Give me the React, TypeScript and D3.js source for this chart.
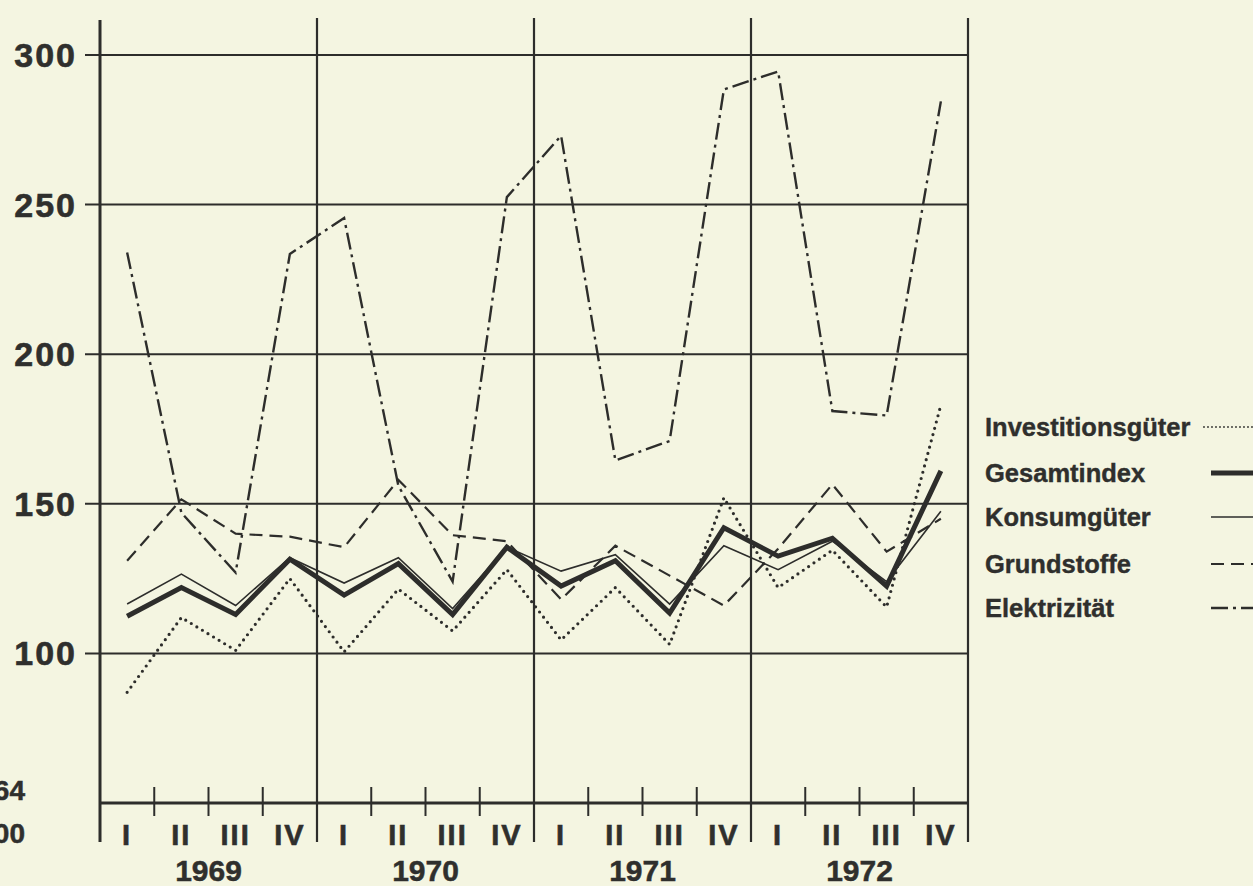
import React from 'react';
import * as d3 from 'd3';

// Quarterly production index, 1964 = 100
const years = ['1969', '1970', '1971', '1972'];
const quarters = ['I', 'II', 'III', 'IV'];
const yTicks = [100, 150, 200, 250, 300];

const investitionsgueter = [87, 112, 101, 125, 100.5, 121.5, 107.5, 128, 104.5, 122, 103, 152, 122, 134.5, 115.5, 183];
const gesamtindex = [112.4, 122, 113, 131.5, 119.5, 130, 113, 135.5, 122.5, 131, 113.5, 142, 132.5, 138.5, 122.5, 161];
const konsumgueter = [116.5, 126.5, 116, 132, 123.5, 132, 115, 135.5, 127.5, 133, 116.5, 136, 128, 137.5, 124, 147.5];
const grundstoffe = [131, 151.5, 140, 139, 135.5, 158, 139.5, 137.5, 118, 136, 126, 116, 135, 156.5, 134, 145];
const elektrizitaet = [234, 147, 127, 233.5, 245.5, 156, 124, 252.5, 273, 164.5, 171, 288.5, 294.5, 181, 179.5, 284.5];

const INK = '#2d2d2b';
const TEXT = '#2f2f2d';
const BG = '#f4f5e1';
const FONT = '"Liberation Sans", Arial, Helvetica, sans-serif';

const series = [
  { name: 'Investitionsgüter', values: investitionsgueter, width: 3.2, dash: '0 6.5', cap: 'round' },
  { name: 'Gesamtindex', values: gesamtindex, width: 5, dash: null, cap: 'butt' },
  { name: 'Konsumgüter', values: konsumgueter, width: 1.6, dash: null, cap: 'butt' },
  { name: 'Grundstoffe', values: grundstoffe, width: 2.2, dash: '13 7', cap: 'butt' },
  { name: 'Elektrizität', values: elektrizitaet, width: 2.4, dash: '17 5 3 5', cap: 'butt' },
];

export default function App() {
  const width = 1253;
  const height = 886;
  const left = 100;
  const right = 968;
  const top = 18;
  const baseY = 803;
  const n = years.length * quarters.length;

  const x = d3.scaleLinear().domain([0, n]).range([left, right]);
  const y = d3.scaleLinear().domain([50, 300]).range([baseY, 55]);

  const line = d3.line<number>()
    .x((_, i) => x(i + 0.5))
    .y(d => y(d));

  const legendY = [427, 473, 517, 564, 608];

  return (
    <svg width={width} height={height}
      style={{ position: 'absolute', left: 0, top: 0, background: BG }}
      fontFamily={FONT} fontWeight="bold">
      <rect x={0} y={0} width={width} height={height} fill={BG} />

      {/* horizontal grid */}
      {yTicks.map(t => (
        <g key={t}>
          <line x1={85} x2={right} y1={y(t)} y2={y(t)} stroke={INK} strokeWidth={2} />
          <text x={77} y={y(t) + 12} textAnchor="end" fontSize={34} fill={TEXT} letterSpacing={2}
            stroke={TEXT} strokeWidth={0.6}>{t}</text>
        </g>
      ))}

      {/* year dividers */}
      {d3.range(1, years.length + 1).map(k => (
        <line key={k} x1={x(k * 4)} x2={x(k * 4)} y1={top} y2={842} stroke={INK} strokeWidth={2.2} />
      ))}
      <line x1={left} x2={left} y1={top + 2} y2={842} stroke={INK} strokeWidth={3} />

      {/* base axis and quarter ticks */}
      <line x1={left} x2={right} y1={baseY} y2={baseY} stroke={INK} strokeWidth={3} />
      {d3.range(1, n).filter(i => i % 4 !== 0).map(i => (
        <line key={i} x1={x(i)} x2={x(i)} y1={787} y2={816} stroke={INK} strokeWidth={2} />
      ))}

      {/* quarter and year labels */}
      {d3.range(n).map(i => (
        <text key={i} x={x(i + 0.5)} y={845} textAnchor="middle" fontSize={29} fill={TEXT} letterSpacing={2}
          stroke={TEXT} strokeWidth={0.6}>
          {quarters[i % 4]}
        </text>
      ))}
      {years.map((yr, k) => (
        <text key={yr} x={x(k * 4 + 2)} y={881} textAnchor="middle" fontSize={30} fill={TEXT}
          stroke={TEXT} strokeWidth={0.5}>{yr}</text>
      ))}

      {/* base reference (cut at the left edge, as in the print) */}
      <text x={25} y={800} textAnchor="end" fontSize={28} fill={TEXT} stroke={TEXT} strokeWidth={0.5}>1964</text>
      <text x={25} y={843} textAnchor="end" fontSize={28} fill={TEXT} stroke={TEXT} strokeWidth={0.5}>=100</text>

      {/* series */}
      {series.map(s => (
        <path key={s.name} d={line(s.values) ?? ''} fill="none" stroke={INK}
          strokeWidth={s.width} strokeDasharray={s.dash ?? undefined}
          strokeLinecap={s.cap as any} strokeLinejoin="miter" />
      ))}

      {/* legend */}
      {series.map((s, i) => (
        <g key={s.name}>
          <text x={985} y={legendY[i] + 9} fontSize={25.5} fill={TEXT} stroke={TEXT} strokeWidth={0.4}>{s.name}</text>
          <line x1={i === 0 ? 1204 : 1211} x2={1262} y1={legendY[i]} y2={legendY[i]} stroke={INK}
            strokeWidth={i === 0 ? 1.8 : s.width} strokeDasharray={i === 0 ? '0 4' : s.dash ?? undefined}
            strokeLinecap={s.cap as any} />
        </g>
      ))}
    </svg>
  );
}
